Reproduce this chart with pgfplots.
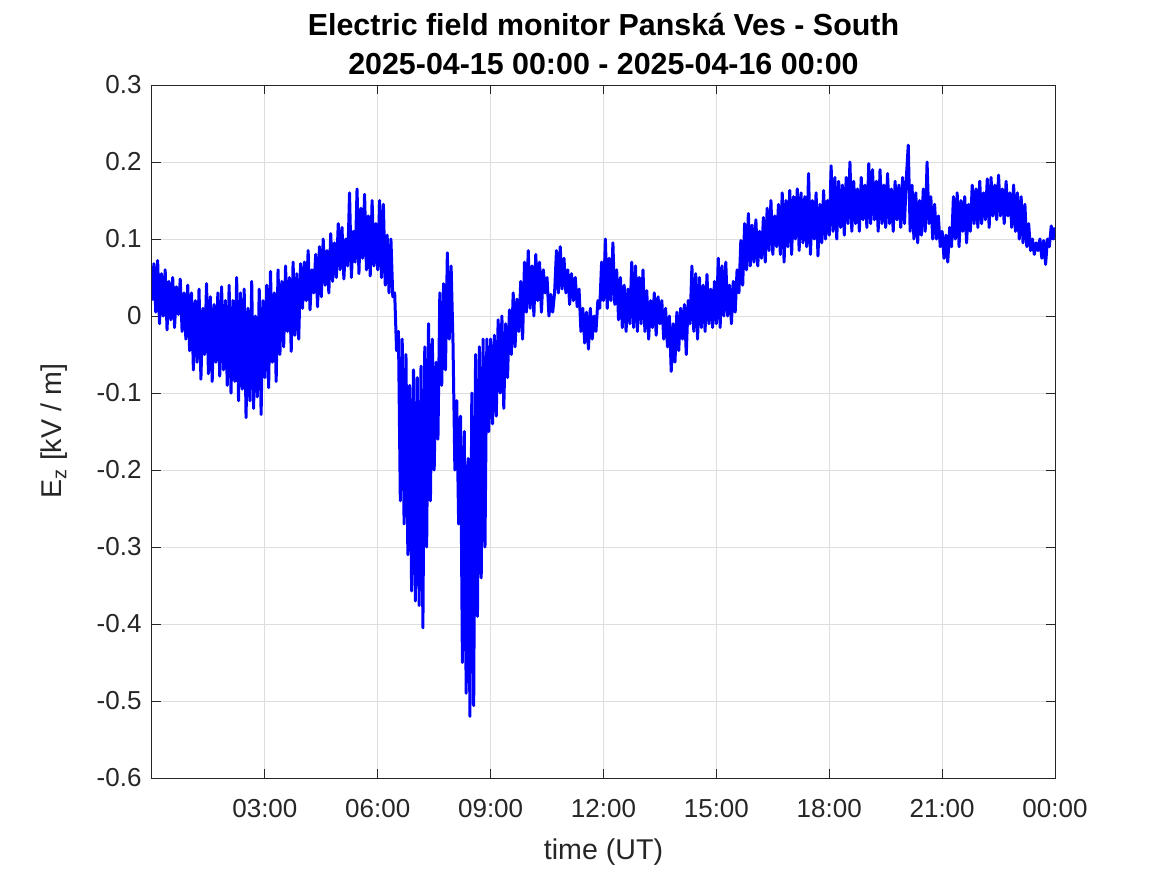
\documentclass[border=0pt]{standalone}
\usepackage{fontspec}
\setmainfont{Liberation Sans}
\usepackage{pgfplots}
\pgfplotsset{compat=1.18}
\begin{document}
\begin{tikzpicture}
\useasboundingbox (-76pt,-48.5pt) rectangle (507.5pt,389pt);
\begin{axis}[
  at={(0,0)}, anchor=south west,
  scale only axis, width=451.5pt, height=346.5pt,
  xmin=0, xmax=24, ymin=-0.6, ymax=0.3,
  xtick={3,6,9,12,15,18,21,24},
  xticklabels={03:00,06:00,09:00,12:00,15:00,18:00,21:00,00:00},
  ytick={-0.6,-0.5,-0.4,-0.3,-0.2,-0.1,0,0.1,0.2,0.3},
  yticklabels={-0.6,-0.5,-0.4,-0.3,-0.2,-0.1,0,0.1,0.2,0.3},
  tick align=inside, major tick length=4.5pt,
  grid=major, major grid style={color=black!13, line width=0.5pt},
  axis line style={color=black!85, line width=0.5pt},
  every tick/.style={color=black!85, line width=0.5pt},
  tick label style={font=\fontsize{13}{15}\selectfont, text=black!85},
  xticklabel style={yshift=-7pt},
  yticklabel style={xshift=-1.7pt},
  xlabel={time (UT)},
  xlabel style={at={(axis description cs:0.5,-0.117)}, anchor=base, font=\fontsize{14.3}{17}\selectfont, text=black!85},
  ylabel={E\textsubscript{z} [kV / m]},
  ylabel style={at={(axis description cs:-0.0997,0.5)}, anchor=base, font=\fontsize{14.3}{17}\selectfont, text=black!85},
  title={Electric field monitor Panská Ves - South\\2025-04-15 00:00 - 2025-04-16 00:00},
  title style={at={(axis description cs:0.5,0.9975)}, anchor=south, inner sep=0pt, align=center, font=\bfseries\fontsize{15.2}{19.5}\selectfont},
]
\addplot[color={rgb,255:red,0;green,0;blue,255}, line width=1.5pt, line join=round] coordinates {
(0.00,0.02) (0.05,0.068) (0.10,0.005) (0.15,0.072) (0.20,-0.01) (0.25,0.055) (0.30,0.0) (0.35,0.06) (0.40,-0.018) (0.45,0.045) (0.50,-0.005) (0.55,0.05) (0.60,-0.015) (0.65,0.038) (0.70,0.002) (0.75,0.048) (0.80,-0.02) (0.85,0.03) (0.90,-0.03) (0.95,0.04)
(1.00,-0.045) (1.05,0.03) (1.10,-0.07) (1.15,0.02) (1.20,-0.06) (1.25,0.035) (1.30,-0.082) (1.35,0.01) (1.40,-0.05) (1.45,0.042) (1.50,-0.075) (1.55,0.025) (1.60,-0.085) (1.65,0.015) (1.70,-0.06) (1.75,0.03) (1.80,-0.078) (1.85,0.038) (1.90,-0.07) (1.95,0.02)
(2.00,-0.09) (2.05,0.04) (2.10,-0.1) (2.15,0.02) (2.20,-0.085) (2.25,0.05) (2.30,-0.11) (2.35,0.03) (2.40,-0.095) (2.45,0.035) (2.50,-0.132) (2.55,0.01) (2.60,-0.11) (2.65,0.045) (2.70,-0.12) (2.75,0.0) (2.80,-0.105) (2.85,0.035) (2.90,-0.128) (2.95,0.02)
(3.00,-0.08) (3.05,0.04) (3.10,-0.093) (3.15,0.058) (3.20,-0.06) (3.25,0.03) (3.30,-0.085) (3.35,0.06) (3.40,-0.05) (3.45,0.045) (3.50,-0.04) (3.55,0.065) (3.60,-0.02) (3.65,0.05) (3.70,-0.046) (3.75,0.07) (3.80,-0.025) (3.85,0.055) (3.90,-0.03) (3.95,0.068)
(4.00,0.01) (4.05,0.07) (4.10,0.02) (4.15,0.085) (4.20,0.008) (4.25,0.06) (4.30,0.03) (4.35,0.08) (4.40,0.012) (4.45,0.09) (4.50,0.025) (4.55,0.1) (4.60,0.04) (4.65,0.085) (4.70,0.03) (4.75,0.107) (4.80,0.045) (4.85,0.095) (4.90,0.05) (4.95,0.12)
(5.00,0.06) (5.05,0.115) (5.10,0.048) (5.15,0.1) (5.20,0.065) (5.25,0.16) (5.30,0.05) (5.35,0.11) (5.40,0.07) (5.45,0.165) (5.50,0.055) (5.55,0.14) (5.60,0.075) (5.65,0.158) (5.70,0.06) (5.75,0.13) (5.80,0.052) (5.85,0.15) (5.90,0.065) (5.95,0.12)
(6.00,0.06) (6.05,0.15) (6.10,0.05) (6.15,0.145) (6.20,0.04) (6.25,0.105) (6.30,0.03) (6.35,0.1) (6.40,0.025) (6.45,0.03) (6.50,-0.045) (6.55,-0.02) (6.60,-0.24) (6.65,-0.03) (6.70,-0.27) (6.75,-0.05) (6.80,-0.31) (6.85,-0.09) (6.90,-0.357) (6.95,-0.07)
(7.00,-0.37) (7.05,-0.08) (7.10,-0.376) (7.15,-0.065) (7.20,-0.405) (7.25,-0.04) (7.30,-0.3) (7.35,-0.01) (7.40,-0.24) (7.45,-0.03) (7.50,-0.2) (7.55,-0.06) (7.60,-0.16) (7.65,0.03) (7.70,-0.09) (7.75,0.042) (7.80,-0.07) (7.85,0.082) (7.90,-0.03) (7.95,0.065)
(8.00,-0.035) (8.05,-0.2) (8.10,-0.11) (8.15,-0.27) (8.20,-0.13) (8.25,-0.45) (8.30,-0.15) (8.35,-0.49) (8.40,-0.185) (8.45,-0.52) (8.50,-0.1) (8.55,-0.506) (8.60,-0.05) (8.65,-0.39) (8.70,-0.04) (8.75,-0.34) (8.80,-0.03) (8.85,-0.3) (8.90,-0.03) (8.95,-0.15)
(9.00,-0.03) (9.05,-0.14) (9.10,-0.025) (9.15,-0.13) (9.20,-0.005) (9.25,-0.1) (9.30,0.0) (9.35,-0.12) (9.40,-0.01) (9.45,-0.08) (9.50,0.008) (9.55,-0.05) (9.60,0.03) (9.65,-0.04) (9.70,0.022) (9.75,-0.02) (9.80,0.045) (9.85,-0.03) (9.90,0.07) (9.95,0.005)
(10.00,0.085) (10.05,0.01) (10.10,0.065) (10.15,0.0) (10.20,0.08) (10.25,0.02) (10.30,0.07) (10.35,0.005) (10.40,0.06) (10.45,0.03) (10.50,0.05) (10.55,0.0) (10.60,0.028) (10.65,0.005) (10.70,0.03) (10.75,0.085) (10.80,0.03) (10.85,0.09) (10.90,0.035) (10.95,0.075)
(11.00,0.03) (11.05,0.06) (11.10,0.015) (11.15,0.055) (11.20,0.02) (11.25,0.05) (11.30,0.012) (11.35,0.035) (11.40,-0.02) (11.45,0.01) (11.50,-0.035) (11.55,0.005) (11.60,-0.043) (11.65,0.01) (11.70,-0.03) (11.75,0.0) (11.80,-0.02) (11.85,0.02) (11.90,0.01) (11.95,0.07)
(12.00,0.02) (12.05,0.1) (12.10,0.01) (12.15,0.075) (12.20,0.02) (12.25,0.095) (12.30,0.015) (12.35,0.06) (12.40,-0.005) (12.45,0.05) (12.50,-0.015) (12.55,0.04) (12.60,-0.02) (12.65,0.035) (12.70,-0.01) (12.75,0.07) (12.80,-0.015) (12.85,0.065) (12.90,-0.02) (12.95,0.05)
(13.00,-0.01) (13.05,0.06) (13.10,-0.02) (13.15,0.033) (13.20,-0.03) (13.25,0.02) (13.30,-0.015) (13.35,0.03) (13.40,-0.025) (13.45,0.025) (13.50,-0.01) (13.55,0.02) (13.60,-0.03) (13.65,0.01) (13.70,-0.04) (13.75,0.0) (13.80,-0.072) (13.85,-0.01) (13.90,-0.06) (13.95,0.005)
(14.00,-0.045) (14.05,0.01) (14.10,-0.03) (14.15,0.015) (14.20,-0.05) (14.25,0.02) (14.30,-0.01) (14.35,0.065) (14.40,-0.02) (14.45,0.055) (14.50,-0.03) (14.55,0.05) (14.60,-0.015) (14.65,0.04) (14.70,-0.02) (14.75,0.054) (14.80,-0.01) (14.85,0.035) (14.90,-0.015) (14.95,0.045)
(15.00,-0.01) (15.05,0.075) (15.10,-0.015) (15.15,0.065) (15.20,0.0) (15.25,0.07) (15.30,0.0) (15.35,0.04) (15.40,-0.01) (15.45,0.045) (15.50,0.005) (15.55,0.06) (15.60,0.03) (15.65,0.098) (15.70,0.04) (15.75,0.12) (15.80,0.06) (15.85,0.133) (15.90,0.065) (15.95,0.118)
(16.00,0.07) (16.05,0.125) (16.10,0.065) (16.15,0.11) (16.20,0.075) (16.25,0.128) (16.30,0.07) (16.35,0.14) (16.40,0.085) (16.45,0.15) (16.50,0.08) (16.55,0.13) (16.60,0.09) (16.65,0.145) (16.70,0.08) (16.75,0.16) (16.80,0.07) (16.85,0.15) (16.90,0.09) (16.95,0.163)
(17.00,0.08) (17.05,0.155) (17.10,0.1) (17.15,0.165) (17.20,0.085) (17.25,0.16) (17.30,0.095) (17.35,0.155) (17.40,0.09) (17.45,0.185) (17.50,0.08) (17.55,0.15) (17.60,0.1) (17.65,0.16) (17.70,0.078) (17.75,0.145) (17.80,0.095) (17.85,0.163) (17.90,0.1) (17.95,0.15)
(18.00,0.105) (18.05,0.195) (18.10,0.11) (18.15,0.18) (18.20,0.1) (18.25,0.175) (18.30,0.115) (18.35,0.17) (18.40,0.105) (18.45,0.18) (18.50,0.12) (18.55,0.2) (18.60,0.11) (18.65,0.175) (18.70,0.12) (18.75,0.165) (18.80,0.11) (18.85,0.18) (18.90,0.125) (18.95,0.17)
(19.00,0.115) (19.05,0.198) (19.10,0.12) (19.15,0.19) (19.20,0.125) (19.25,0.175) (19.30,0.11) (19.35,0.19) (19.40,0.12) (19.45,0.17) (19.50,0.115) (19.55,0.185) (19.60,0.12) (19.65,0.165) (19.70,0.11) (19.75,0.175) (19.80,0.125) (19.85,0.17) (19.90,0.115) (19.95,0.18)
(20.00,0.12) (20.05,0.18) (20.10,0.222) (20.15,0.11) (20.20,0.17) (20.25,0.1) (20.30,0.16) (20.35,0.095) (20.40,0.15) (20.45,0.105) (20.50,0.165) (20.55,0.11) (20.60,0.2) (20.65,0.12) (20.70,0.155) (20.75,0.1) (20.80,0.145) (20.85,0.1) (20.90,0.13) (20.95,0.09)
(21.00,0.11) (21.05,0.075) (21.10,0.105) (21.15,0.07) (21.20,0.115) (21.25,0.09) (21.30,0.155) (21.35,0.1) (21.40,0.16) (21.45,0.09) (21.50,0.15) (21.55,0.11) (21.60,0.155) (21.65,0.095) (21.70,0.145) (21.75,0.11) (21.80,0.17) (21.85,0.12) (21.90,0.165) (21.95,0.115)
(22.00,0.175) (22.05,0.12) (22.10,0.16) (22.15,0.125) (22.20,0.178) (22.25,0.115) (22.30,0.18) (22.35,0.13) (22.40,0.17) (22.45,0.125) (22.50,0.183) (22.55,0.13) (22.60,0.165) (22.65,0.12) (22.70,0.175) (22.75,0.13) (22.80,0.16) (22.85,0.115) (22.90,0.17) (22.95,0.11)
(23.00,0.16) (23.05,0.1) (23.10,0.155) (23.15,0.095) (23.20,0.145) (23.25,0.09) (23.30,0.12) (23.35,0.085) (23.40,0.1) (23.45,0.08) (23.50,0.095) (23.55,0.085) (23.60,0.1) (23.65,0.075) (23.70,0.098) (23.75,0.067) (23.80,0.1) (23.85,0.09) (23.90,0.117) (23.95,0.1)
(24.00,0.115)
};
\end{axis}
\end{tikzpicture}
\end{document}
